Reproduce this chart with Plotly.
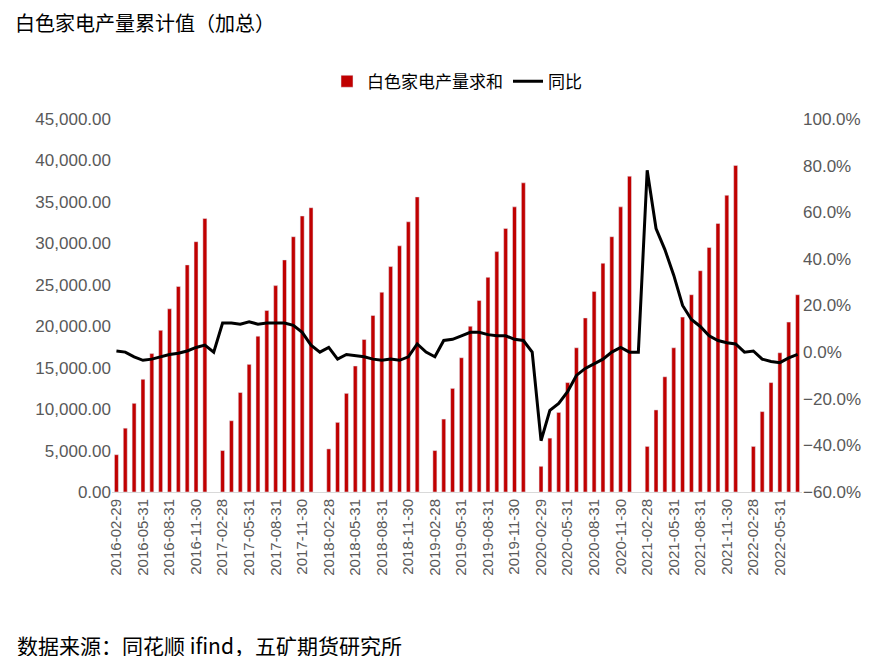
import plotly.graph_objects as go
import pandas as pd

dates = [d.strftime("%Y-%m-%d") for d in pd.date_range("2016-02-29", "2022-07-31", freq="ME")]

# cumulative output, January has no figure
output_sum = [
    4500, 7700, 10700, 13600, 16700, 19500, 22100, 24800, 27400, 30200, 33000,
    None, 5000, 8600, 12000, 15400, 18800, 21900, 24900, 28000, 30800, 33300, 34300,
    None, 5200, 8400, 11900, 15200, 18400, 21300, 24100, 27200, 29700, 32600, 35600,
    None, 5000, 8800, 12500, 16200, 20000, 23100, 25900, 29000, 31800, 34400, 37300,
    None, 3100, 6500, 9600, 13200, 17400, 21000, 24200, 27600, 30800, 34400, 38100,
    None, 5500, 9900, 13900, 17400, 21100, 23800, 26700, 29500, 32400, 35800, 39400,
    None, 5500, 9700, 13200, 16800, 20500, 23800,
]
yoy = [
    0.5, 0, -2, -3.5, -3, -2, -1, -0.5, 0.5, 2, 3,
    0, 12.5, 12.5, 12, 13, 12, 12.5, 12.5, 12.5, 11.5, 8.5, 3,
    0, 2, -3, -1, -1.5, -2, -3, -3.5, -3, -3.5, -2, 3.5,
    0, -2, 5, 5.5, 7, 8.5, 8.5, 7.5, 7, 7, 5.5, 5,
    0, -38, -25, -22, -17, -10, -7, -5, -3, 0, 2, 0,
    0, 78, 53, 44, 33, 20, 14, 11, 7, 5, 4, 3.5,
    0, 0.5, -3, -4, -4.5, -2.5, -1,
]
yoy = [v / 100 for v in yoy]

fig = go.Figure()
fig.add_bar(x=dates, y=output_sum, name="白色家电产量求和", marker_color="#C00000")
fig.add_scatter(x=dates, y=yoy, name="同比", mode="lines", yaxis="y2",
                line=dict(color="black", width=3))

fig.update_layout(
    width=882, height=656, plot_bgcolor="white", paper_bgcolor="white",
    font=dict(family="Liberation Sans, Noto Sans CJK SC", size=17, color="#595959"),
    margin=dict(l=104, r=88, t=111, b=172, autoexpand=False),
    bargap=0.55,
    title=dict(text="白色家电产量累计值（加总）", x=0.008, xanchor="left", y=0.975, yanchor="middle",
               font=dict(family="Noto Sans CJK SC", size=20, color="black")),
    legend=dict(orientation="h", x=0.5, xanchor="center", y=1.10, yanchor="middle",
                font=dict(size=17, color="black", family="Noto Sans CJK SC")),
    xaxis=dict(type="category", tickvals=dates[::3], ticktext=dates[::3], tickangle=-90,
               showline=True, linecolor="#D9D9D9", ticks="", tickfont=dict(size=15)),
    yaxis=dict(range=[0, 45000], dtick=5000, tickformat=",.2f", showgrid=False,
               zeroline=False),
    yaxis2=dict(range=[-0.6, 1.0], dtick=0.2, tickformat=".1%", overlaying="y",
                side="right", showgrid=False, zeroline=False),
    annotations=[dict(text="数据来源：同花顺 ifind，五矿期货研究所", xref="paper", yref="paper",
                      x=-0.14, y=-0.41, xanchor="left", yanchor="middle", showarrow=False,
                      font=dict(family="Noto Sans CJK SC", size=21, color="black"))],
)

fig.write_html("out.html")
